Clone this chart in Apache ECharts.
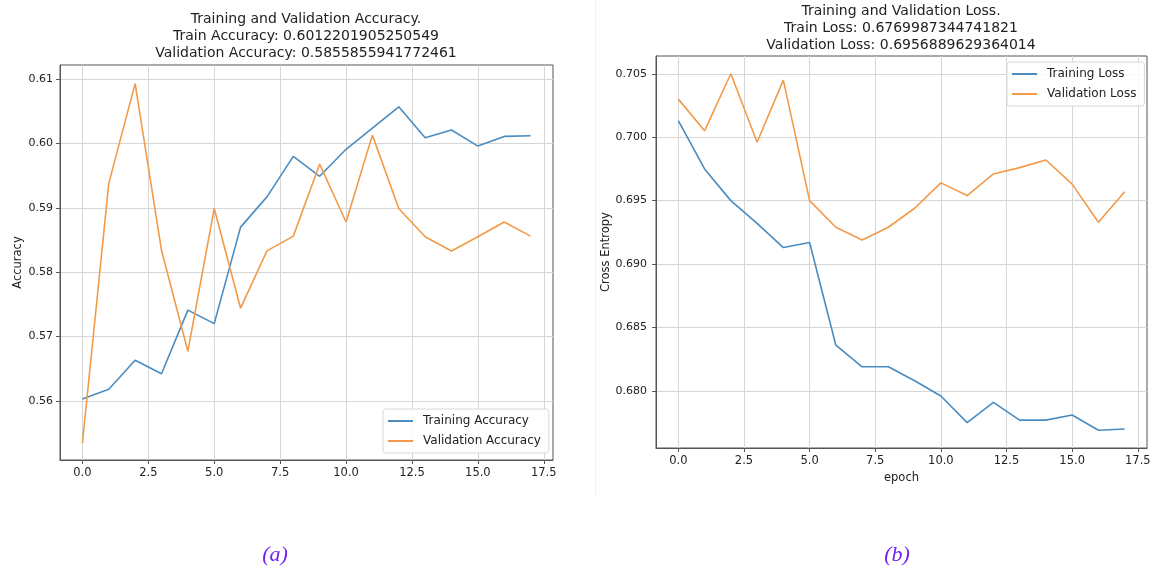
<!DOCTYPE html>
<html>
<head>
<meta charset="utf-8">
<script src="https://cdn.jsdelivr.net/npm/echarts@6/dist/echarts.min.js"></script>
<style>
  html, body { margin: 0; padding: 0; background: #fff; }
  #main { width: 1156px; height: 570px; }
</style>
</head>
<body>
<div id="main"></div>
<script>
// epochs 0..17
let epochs = [0, 1, 2, 3, 4, 5, 6, 7, 8, 9, 10, 11, 12, 13, 14, 15, 16, 17];

let trainAcc = [0.5603, 0.5618, 0.5663, 0.5642, 0.5741, 0.5720, 0.5870, 0.5917, 0.5980,
    0.5949, 0.5991, 0.6024, 0.6057, 0.6009, 0.6021, 0.5996, 0.6011, 0.6012];
let valAcc = [0.5534, 0.5938, 0.6093, 0.5834, 0.5677, 0.5899, 0.5744, 0.5833, 0.5856,
    0.5968, 0.5878, 0.6013, 0.5899, 0.5855, 0.5833, 0.5855, 0.5878, 0.5856];

let trainLoss = [0.7013, 0.6975, 0.6950, 0.6932, 0.6913, 0.6917, 0.6836, 0.6819, 0.6819,
    0.6808, 0.6796, 0.6775, 0.6791, 0.6777, 0.6777, 0.6781, 0.6769, 0.6770];
let valLoss = [0.7030, 0.7005, 0.7050, 0.6996, 0.7045, 0.6950, 0.6929, 0.6919, 0.6929,
    0.6944, 0.6964, 0.6954, 0.6971, 0.6976, 0.6982, 0.6963, 0.6933, 0.6957];

let xTicks = [0, 2.5, 5, 7.5, 10, 12.5, 15, 17.5];
let accTicks = [0.56, 0.57, 0.58, 0.59, 0.60, 0.61];
let lossTicks = [0.680, 0.685, 0.690, 0.695, 0.700, 0.705];

let blue = "#4a8cc0";
let orange = "#f29a48";
let font = "DejaVu Sans";

function pairs(ys) {
    return epochs.map((e, i) => [e, ys[i]]);
}

function xAxisOf(gridIndex, name) {
    return {
        type: "value",
        gridIndex: gridIndex,
        min: -0.85,
        max: 17.85,
        name: name,
        nameLocation: "middle",
        nameGap: 23,
        nameTextStyle: { color: "#222", fontSize: 11.5, fontFamily: font },
        axisLine: { show: true, onZero: false, lineStyle: { color: "#555" } },
        axisTick: { show: true, inside: false, length: 4, customValues: xTicks, lineStyle: { color: "#555" } },
        axisLabel: {
            customValues: xTicks,
            color: "#222", fontSize: 11.5, fontFamily: font, margin: 7,
            formatter: (v) => v.toFixed(1),
        },
        splitLine: { show: true, lineStyle: { color: "#d6d6d6", width: 1 } },
    };
}

function yAxisOf(gridIndex, name, min, max, ticks, digits, gap, margin) {
    return {
        type: "value",
        gridIndex: gridIndex,
        min: min,
        max: max,
        name: name,
        nameLocation: "middle",
        nameRotate: 90,
        nameGap: gap,
        nameTextStyle: { color: "#222", fontSize: 11.5, fontFamily: font },
        axisLine: { show: true, onZero: false, lineStyle: { color: "#555" } },
        axisTick: { show: true, inside: false, length: 4, customValues: ticks, lineStyle: { color: "#555" } },
        axisLabel: {
            customValues: ticks,
            color: "#222", fontSize: 11, fontFamily: font, margin: margin,
            formatter: (v) => v.toFixed(digits),
        },
        splitLine: { show: true, lineStyle: { color: "#d6d6d6", width: 1 } },
    };
}

function lineSeries(name, ys, color, idx) {
    return {
        name: name,
        type: "line",
        xAxisIndex: idx,
        yAxisIndex: idx,
        data: pairs(ys),
        showSymbol: false,
        symbol: "none",
        lineStyle: { color: color, width: 1.6 },
        itemStyle: { color: color },
        animation: false,
    };
}

let dom = document.getElementById("main");
let myChart = echarts.init(dom, null, { renderer: "canvas" });

let legendBase = {
    orient: "vertical",
    icon: "rect",
    itemWidth: 25,
    itemHeight: 2,
    itemGap: 8,
    padding: [6, 8, 6, 5],
    backgroundColor: "rgba(255,255,255,0.85)",
    borderColor: "#d8d8d8",
    borderWidth: 1,
    borderRadius: 3,
    textStyle: { color: "#222", fontSize: 12, fontFamily: font, padding: [0, 0, 0, 5] },
};

let titleStyle = {
    textAlign: "center", textVerticalAlign: "top",
    fontSize: 14, lineHeight: 17, fontFamily: font, fill: "#222",
};

let option = {
    backgroundColor: "#fff",
    animation: false,
    grid: [
        { left: 60, top: 65, width: 493, height: 395, show: true, borderColor: "#555", borderWidth: 1, backgroundColor: "transparent" },
        { left: 656, top: 56, width: 491, height: 392, show: true, borderColor: "#555", borderWidth: 1, backgroundColor: "transparent" },
    ],
    xAxis: [xAxisOf(0, ""), xAxisOf(1, "epoch")],
    yAxis: [
        yAxisOf(0, "Accuracy", 0.5508, 0.6122, accTicks, 2, 36, 7),
        yAxisOf(1, "Cross Entropy", 0.6755, 0.7064, lossTicks, 3, 44, 9),
    ],
    legend: [
        Object.assign({}, legendBase, { left: 383, top: 409, data: ["Training Accuracy", "Validation Accuracy"] }),
        Object.assign({}, legendBase, { left: 1007, top: 62, data: ["Training Loss", "Validation Loss"] }),
    ],
    series: [
        lineSeries("Training Accuracy", trainAcc, blue, 0),
        lineSeries("Validation Accuracy", valAcc, orange, 0),
        lineSeries("Training Loss", trainLoss, blue, 1),
        lineSeries("Validation Loss", valLoss, orange, 1),
    ],
    graphic: [
        {
            type: "line", silent: true,
            shape: { x1: 595.5, y1: 0, x2: 595.5, y2: 497 },
            style: { stroke: "#f0f0f0", lineWidth: 1 },
        },
        {
            type: "text", x: 306, y: 11,
            style: Object.assign({
                text: "Training and Validation Accuracy.\nTrain Accuracy: 0.6012201905250549\nValidation Accuracy: 0.5855855941772461",
            }, titleStyle),
        },
        {
            type: "text", x: 901, y: 3,
            style: Object.assign({
                text: "Training and Validation Loss.\nTrain Loss: 0.6769987344741821\nValidation Loss: 0.6956889629364014",
            }, titleStyle),
        },
        {
            type: "text", x: 275, y: 555,
            style: {
                text: "(a)", textAlign: "center", textVerticalAlign: "middle",
                fontSize: 22, fontStyle: "italic", fontFamily: "Liberation Serif", fill: "#7420f5",
            },
        },
        {
            type: "text", x: 897, y: 555,
            style: {
                text: "(b)", textAlign: "center", textVerticalAlign: "middle",
                fontSize: 22, fontStyle: "italic", fontFamily: "Liberation Serif", fill: "#7420f5",
            },
        },
    ],
};

if (option && typeof option === "object") {
    myChart.setOption(option);
}

window.addEventListener("resize", myChart.resize);
</script>
</body>
</html>
